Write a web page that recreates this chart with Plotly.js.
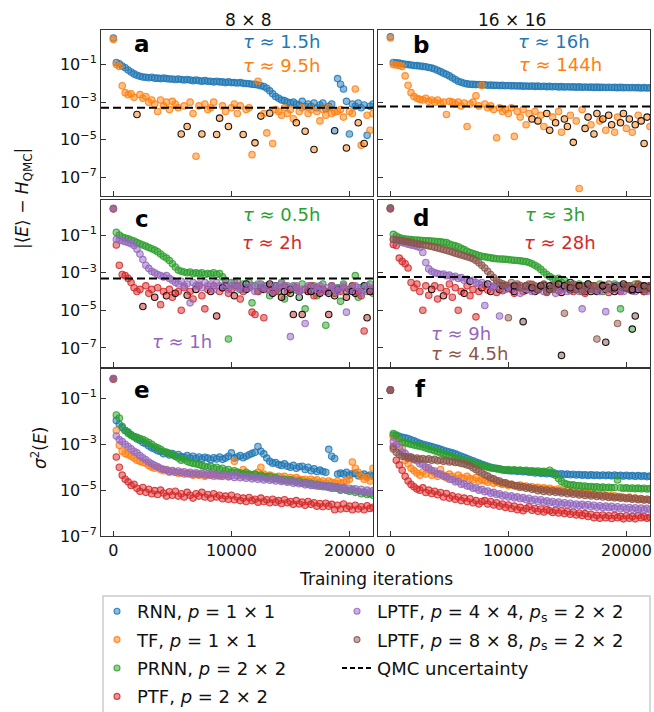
<!DOCTYPE html>
<html><head><meta charset="utf-8">
<script src="https://cdn.plot.ly/plotly-3.0.1.min.js"></script>
<style>html,body{margin:0;padding:0;background:#fff}#chart{width:654px;height:712px}</style>
</head><body><div id="chart"></div>
<script>
// ---------- DATA (signed: negative = E below QMC, drawn with black edge) ----------
const iters = [0,250,500,750,1000,1250,1500,1750,2000,2250,2500,2750,3000,3250,3500,3750,4000,4250,4500,4750,5000,5250,5500,5750,6000,6250,6500,6750,7000,7250,7500,7750,8000,8250,8500,8750,9000,9250,9500,9750,10000,10250,10500,10750,11000,11250,11500,11750,12000,12250,12500,12750,13000,13250,13500,13750,14000,14250,14500,14750,15000,15250,15500,15750,16000,16250,16500,16750,17000,17250,17500,17750,18000,18250,18500,18750,19000,19250,19500,19750,20000,20250,20500,20750,21000,21250,21500,21750,22000];
const xTickVals = [0, 10000, 20000];
const xTickText = ['0', '10000', '20000'];
const yTickVals = [1e-7, 1e-5, 1e-3, 1e-1];
const yTickText = ['10<sup>−7</sup>', '10<sup>−5</sup>', '10<sup>−3</sup>', '10<sup>−1</sup>'];
const qmc8 = 5.0e-4;
const qmc16 = 5.9e-4;
const colTitles = ['8 × 8', '16 × 16'];
const panelLetters = ['a', 'b', 'c', 'd', 'e', 'f'];

// panel a (8x8, |E - H_QMC|)
const a_rnn = [2.6,0.13,0.11,0.085,0.068,0.052,0.04,0.032,0.027,0.024,
 0.022,0.021,0.02,0.021,0.019,0.019,0.018,0.019,0.018,0.017,
 0.017,0.016,0.017,0.016,0.015,0.016,0.015,0.014,0.015,0.014,
 0.013,0.014,0.013,0.013,0.012,0.013,0.012,0.012,0.011,0.012,
 0.011,0.011,0.0105,0.011,0.01,0.0098,0.0095,0.009,0.0088,0.0082,
 0.0075,0.0068,0.0055,0.004,0.0028,0.002,0.0016,0.0013,0.0012,0.001,
 0.0009,0.001,0.0008,0.0007,0.0011,0.0006,0.0008,0.0006,0.0009,0.0005,
 0.0007,0.0009,0.00045,0.0006,0.0008,-3e-5,0.018,0.009,0.005,0.0011,
 2e-5,0.0008,0.0006,0.0009,0.0005,0.0007,1.7e-5,0.0006,0.0008];
const a_tf = [2.2,0.1,0.08,0.0075,0.0032,0.0025,0.0028,0.0018,-0.00022,0.0025,
 0.0016,0.002,0.001,0.0013,0.0008,0.00032,0.0013,0.00063,0.001,0.0004,
 0.0011,0.0008,0.0005,-2e-5,0.00063,-5e-5,0.001,0.00025,1.3e-6,0.00063,
 -2e-5,0.0008,0.0004,0.0005,0.001,-1.9e-5,-0.00014,0.00063,0.00032,-5e-5,
 0.0005,0.0008,0.00025,0.00063,-1.9e-5,0.0004,0.0005,1.6e-6,-6.8e-6,0.013,
 -0.00018,0.00025,2.3e-5,-0.00026,6.3e-6,0.0004,0.00032,0.0002,0.0005,0.00025,
 0.0004,0.00013,-8e-5,0.00032,0.0005,-2.8e-5,0.00025,0.0004,-3e-6,0.00032,
 0.0001,0.0004,0.0002,0.0005,0.00025,0.0003,0.00032,0.0004,0.00016,-3.6e-6,
 0.00032,0.00025,0.005,-8e-5,5e-6,-6.3e-6,0.0002,3.2e-5,0.00025];

// panel b (16x16, |E - H_QMC|)
const b_rnn = [3.0,0.13,0.125,0.12,0.11,0.105,0.1,0.095,0.09,0.088,
 0.085,0.08,0.077,0.07,0.065,0.058,0.05,0.042,0.035,0.03,
 0.025,0.02,0.016,0.013,0.0115,0.0102,0.0094,0.009,0.0088,0.0086,
 0.0087,0.0083,0.0084,0.008,0.0081,0.0078,0.0079,0.0076,0.0078,0.0075,
 0.0077,0.0074,0.0075,0.0072,0.0074,0.0071,0.0073,0.007,0.0072,0.0069,
 0.0071,0.0068,0.007,0.0067,0.0069,0.0066,0.0068,0.0065,0.0067,0.0064,
 0.0066,0.0064,0.0065,0.0063,0.0065,0.0062,0.0064,0.0062,0.0063,0.0061,
 0.0063,0.0061,0.0062,0.006,0.0062,0.006,0.0061,0.0059,0.0061,0.0059,
 0.006,0.0058,0.006,0.0058,0.0059,0.0057,0.0059,0.0057,0.0058];
const b_tf = [2.6,0.1,0.095,0.09,0.08,0.025,0.008,0.0032,0.002,0.0016,
 0.0014,0.0013,0.0016,0.0011,0.0013,0.001,0.0013,0.0009,0.001,0.00022,
 0.0011,0.001,0.0008,0.001,0.00063,0.0009,5e-5,0.0008,0.001,0.0022,
 0.00063,0.0076,0.0008,0.0005,0.00063,0.0004,1.26e-5,0.0005,0.00032,0.0004,
 0.00025,0.0005,1.5e-5,0.00032,0.00016,0.0004,6.3e-5,0.00025,-0.000126,0.00032,
 -0.0001,0.0002,5e-5,-0.00025,-3.2e-5,0.00016,-8e-5,0.00032,2.5e-5,-0.000126,
 -5e-5,0.0002,-7.2e-6,0.0001,2.5e-8,0.0004,-4e-5,-0.00016,6.3e-5,-2e-5,
 -0.00025,0.0001,-0.000126,3.2e-5,-0.0002,-6.3e-5,2.5e-5,0.00016,-8e-5,-0.00025,
 4e-5,-0.000126,2.5e-5,-6.3e-5,0.0002,-0.0001,-6.3e-6,-0.00016,5e-5];

// panel c (8x8, |E - H_QMC|)
const c_prnn = [2.5,0.14,0.1,0.08,0.07,0.063,0.055,0.048,0.04,0.035,
 0.03,0.026,0.022,0.019,0.016,0.013,0.01,0.0075,0.006,0.0045,
 0.003,0.002,0.0014,0.0012,0.0011,0.001,0.0011,0.0009,0.001,0.0009,
 0.001,0.0008,0.0009,0.00085,0.001,0.0008,0.0009,0.0006,0.0004,3e-7,
 0.0003,0.0002,0.00035,0.00013,0.00025,0.00016,0.0003,2.5e-5,0.0002,0.0001,
 0.00025,-0.00013,0.0002,6e-5,0.00016,-0.0002,0.0001,0.0003,4e-5,0.00016,
 -8e-5,0.0002,0.00012,-5e-5,0.00025,1.2e-5,0.00016,-0.0001,0.0002,6e-5,
 -0.00013,0.00025,1.6e-6,0.0001,0.0002,-6e-5,0.00016,3e-5,0.00025,-0.0001,
 0.00013,0.0002,0.0007,5e-5,0.00016,-0.0002,0.0001,0.00025,8e-5];
const c_ptf = [2.5,0.03,0.0025,0.0008,0.0007,0.0005,0.0003,0.00016,0.0001,0.00013,
 -1.6e-5,0.0002,8e-5,0.00013,-5e-5,0.00016,2e-5,0.0001,-6e-5,0.00013,
 5e-5,-8e-5,0.0001,1e-5,0.00016,-6.3e-5,0.0001,4e-5,-0.00013,0.0002,
 6e-5,1.2e-5,0.00013,-0.0001,0.0002,-5e-6,0.0001,0.00016,-0.0002,8e-5,
 0.00013,-6e-5,0.0002,4e-5,0.0001,-0.00013,0.00016,8e-6,6e-6,0.0001,
 -0.00016,4e-6,0.00013,0.0002,-8e-5,0.0001,0.00016,-5e-5,0.0002,0.0001,
 -0.00013,-6e-6,0.00016,0.0001,-6e-6,0.00013,-0.0001,0.0002,6e-5,0.00016,
 -8e-5,0.00013,0.0001,-6e-6,0.0002,8e-5,-0.00013,0.0001,0.00016,-5e-5,
 0.00013,0.0002,-8e-5,0.0001,6e-5,8e-7,-4e-6,0.00013,0.0001];
const c_lptf4 = [2.7,0.06,0.055,0.05,0.045,0.04,0.035,0.028,0.018,0.01,
 0.005,0.0025,0.0017,0.0012,0.001,0.0008,0.0007,0.0006,0.0007,0.0005,
 0.0004,0.0003,0.00025,0.00035,0.0002,0.00025,2.5e-5,0.0003,0.0002,0.00025,
 0.00016,0.0003,0.0002,0.00025,0.00013,0.0003,0.0002,-0.00016,0.00025,0.00013,
 0.0002,0.0003,0.00016,0.0002,0.00013,-0.00025,0.00016,0.0002,0.0001,0.00025,
 0.00016,0.0002,0.00013,-0.00025,0.0001,0.0002,0.00016,0.00025,-0.0001,0.0002,
 4e-7,0.00016,0.0002,0.0001,0.00013,2e-6,0.0002,-0.0001,0.00016,0.00013,
 0.0002,0.0001,0.00016,-8e-5,0.0002,0.00013,0.0001,0.00016,0.0002,8e-6,
 0.00013,-0.0001,0.0002,0.00016,8e-5,0.00013,0.0002,-0.0001,0.00016];

// panel d (16x16, |E - H_QMC|)
const d_prnn = [2.8,0.11,0.09,0.075,0.065,0.062,0.06,0.058,0.055,0.055,
 0.053,0.052,0.05,0.05,0.048,0.047,0.045,0.044,0.042,0.04,
 0.034,0.03,0.027,0.024,0.02,0.017,0.014,0.012,0.0105,0.0092,
 0.0082,0.0075,0.007,0.0066,0.0062,0.0058,0.0055,0.0054,0.0053,0.0052,
 0.005,0.0048,0.0046,0.0045,0.0043,0.0041,0.0039,0.0035,0.003,0.0025,
 0.002,0.0015,0.0011,0.0008,0.00063,0.0005,0.0004,0.0005,0.0003,0.0004,
 0.00025,-0.0003,0.0002,-0.00016,0.00025,0.0002,-0.0001,0.00025,0.00016,-0.0002,
 -0.00013,0.00025,0.0001,0.0002,-0.00016,0.00013,0.00025,-0.0002,1.2e-5,0.0002,
 0.00016,-0.0002,-1e-6,0.00025,0.00013,-0.0002,-0.0001,0.00016,0.0002];
const d_ptf = [2.5,0.032,0.028,0.006,0.004,0.003,0.0018,0.0003,0.00016,0.00025,
 0.0001,1e-5,0.0002,6.3e-5,-0.00013,0.0002,4e-5,0.00016,-6e-5,0.0001,
 0.00025,5e-5,0.00016,1e-5,0.0001,-8e-5,0.0002,6e-5,0.00013,4.5e-6,
 0.0001,-0.00016,0.00022,0.00012,-0.0001,0.00018,0.00009,-0.00013,0.00011,0.0002,
 -0.00015,0.00013,0.00008,-0.00018,0.00021,0.0001,-0.00012,0.00016,0.00024,-0.0001,
 0.00012,0.00017,-0.00022,0.00009,0.00014,-0.00016,0.0002,0.00011,-0.00009,0.00015,
 0.00023,-0.00012,0.0001,0.00018,-0.0002,0.00013,0.00008,-0.00015,0.0002,0.00012,
 -0.0001,0.00017,0.00022,-0.00013,0.00009,0.00015,-0.00019,0.00012,0.0001,-0.00016,
 0.00021,0.00013,-0.00011,0.00017,0.00024,-0.00013,0.0001,0.00015,-0.0002];
const d_lptf4 = [2.5,0.06,0.05,0.045,0.04,0.037,0.033,0.03,0.028,0.025,
 0.022,0.012,0.0035,0.0016,0.0012,0.001,0.0009,0.0008,0.00085,0.0007,
 0.00075,0.0006,0.00065,0.0005,0.00055,0.0004,0.00045,-0.00035,0.0004,0.0003,
 0.00025,0.0003,1.8e-5,-0.00025,0.0002,0.00016,0.00025,5e-6,-0.0002,0.00013,
 0.0002,0.00016,-0.0001,0.0002,8e-5,0.00016,-0.0002,0.00013,0.0001,0.00016,
 -0.00013,0.0002,0.0001,0.00016,-0.00013,0.0002,8e-5,0.00016,0.00013,-0.0002,
 0.0001,0.00016,0.0002,-0.00013,0.0001,1.2e-5,0.00016,0.0002,-0.0001,0.00013,
 0.00016,0.0001,-0.0002,8.5e-6,0.00013,0.00016,-0.0001,0.0002,0.00013,0.0001,
 -0.00016,0.0002,0.00013,0.0001,-0.00013,0.00016,0.0002,0.0001,-0.00016];
const d_lptf8 = [2.8,0.06,0.057,0.054,0.05,0.047,0.044,0.041,0.038,0.035,
 0.033,0.031,0.029,0.027,0.025,0.023,0.021,0.019,0.017,0.0155,
 0.014,0.0125,0.011,0.0098,0.0088,0.0079,0.0071,0.0064,0.0055,0.0045,
 0.0034,0.0025,0.0018,0.0012,0.0008,0.00055,0.0004,0.0003,0.00026,0.00022,
 4e-6,0.0003,-0.0002,0.00025,0.00016,-2.5e-6,0.0002,0.00025,-0.00016,0.0002,
 0.00013,-0.0002,0.00025,0.0001,-0.0002,0.00013,0.0002,-0.00025,-4e-8,7e-6,
 0.0002,-0.00016,0.00025,0.00013,-0.0002,0.0001,0.0002,-0.00025,0.00013,0.0002,
 3e-7,0.00016,-0.0002,-2e-7,0.00025,0.00013,-0.00016,2e-6,0.0002,-0.00025,
 0.00016,0.0002,-0.00013,-5e-6,0.00025,0.00016,-0.0002,0.00013,0.0002];

// panel e (8x8, sigma^2)
const e_rnn = [0.74,1.1e-2,7.5e-3,5.2e-3,4e-3,3.4e-3,2.6e-3,2.2e-3,1.7e-3,1.5e-3,
 1.2e-3,1.05e-3,8.5e-4,7e-4,6.2e-4,5.2e-4,4.8e-4,3.9e-4,4.4e-4,3.4e-4,
 3.9e-4,3.1e-4,3.6e-4,2.9e-4,2.7e-4,3.2e-4,2.5e-4,3e-4,2.4e-4,2.8e-4,
 2.3e-4,2.7e-4,2.5e-4,2.1e-4,2.6e-4,2.3e-4,2.8e-4,2.2e-4,2.5e-4,3e-4,
 4.2e-4,2.5e-4,2.8e-4,3.2e-4,2.6e-4,3e-4,3.5e-4,4e-4,4.5e-4,8e-4,
 5e-4,3.8e-4,2.5e-4,1.8e-4,1.5e-4,1.6e-4,1.3e-4,1.2e-4,1.4e-4,1.1e-4,
 1e-4,1.2e-4,9e-5,1.05e-4,1.1e-4,8e-5,1e-4,7e-5,8.5e-5,6.5e-5,
 7.5e-5,6.5e-5,6e-5,6e-4,3e-4,2.4e-4,5e-5,5.5e-5,5e-5,6e-5,
 4.5e-5,5.2e-5,5.5e-5,4.2e-5,4.6e-5,5e-5,4e-5,4.5e-5,4e-5];
const e_tf = [0.7,0.004,0.0009,0.0005,0.0004,0.00035,0.0003,0.00025,0.0002,0.00018,
 0.00016,0.00015,0.00012,0.0001,9e-5,0.0001,8e-5,7e-5,8e-5,6e-5,
 7e-5,6e-5,5.5e-5,6e-5,5e-5,5.5e-5,5e-5,4.5e-5,5e-5,4.5e-5,
 5e-5,4e-5,4.5e-5,5e-5,4e-5,4.5e-5,4e-5,4.5e-5,5e-5,4e-5,
 6e-5,0.00018,6e-5,5e-5,8e-5,5e-5,4.5e-5,4e-5,5e-5,6e-5,
 0.0001,5e-5,4e-5,4.5e-5,4e-5,3.5e-5,4e-5,3.5e-5,4e-5,3e-5,
 3.5e-5,3e-5,3.5e-5,3e-5,2.8e-5,3e-5,2.5e-5,3e-5,2.5e-5,2.8e-5,
 2.2e-5,2.5e-5,2e-5,2.5e-5,2.2e-5,2e-5,2.5e-5,2e-5,2.2e-5,2.5e-5,
 3e-5,0.00017,9e-5,6e-5,4e-5,3e-5,3.5e-5,2.5e-5,9e-5];
const e_prnn = [0.7,0.019,0.014,0.006,0.004,0.003,0.0025,0.0021,0.002,0.0018,
 0.0016,0.0014,0.0012,0.001,0.0008,0.0007,0.0006,0.0005,0.00045,0.0004,
 0.00035,0.0003,0.00025,0.0002,0.00022,0.00018,0.00016,0.00015,0.00014,0.00013,
 0.00012,0.00011,0.0001,0.00011,9e-5,0.0001,8e-5,9e-5,7e-5,8e-5,
 6e-5,7e-5,6e-5,5.5e-5,5e-5,6e-5,5e-5,4.5e-5,5e-5,4e-5,
 4.5e-5,4e-5,3.5e-5,4e-5,3e-5,3.5e-5,3e-5,2.8e-5,3e-5,2.5e-5,
 2.8e-5,2.5e-5,2.2e-5,2.5e-5,2e-5,2.2e-5,1.8e-5,2e-5,1.6e-5,1.8e-5,
 1.5e-5,1.6e-5,1.4e-5,1.5e-5,1.2e-5,1.4e-5,1.2e-5,1e-5,1.2e-5,1e-5,
 9e-6,1.1e-5,8e-6,9e-6,7e-6,8e-6,6.5e-6,7e-6,6e-6];
const e_ptf = [0.7,2.8e-4,1e-4,4.5e-5,3e-5,2.3e-5,1.6e-5,1.8e-5,1.2e-5,9e-6,
 1.3e-5,8e-6,1.1e-5,7e-6,9.5e-6,6.5e-6,1e-5,7.5e-6,5.5e-6,8.5e-6,
 6e-6,9e-6,5.5e-6,7e-6,5e-6,8e-6,6e-6,4.5e-6,7e-6,5.5e-6,
 8e-6,5e-6,6.5e-6,4.5e-6,7e-6,5e-6,6e-6,4.2e-6,5.5e-6,4e-6,
 6e-6,3.8e-6,5e-6,3.5e-6,4.5e-6,3.2e-6,4.8e-6,3.5e-6,4e-6,3e-6,
 4.5e-6,3.2e-6,3.8e-6,2.8e-6,4e-6,3e-6,3.5e-6,2.6e-6,3.8e-6,2.8e-6,
 3.2e-6,2.4e-6,3.5e-6,2.5e-6,3e-6,2.2e-6,3.2e-6,2.4e-6,2.8e-6,2e-6,
 2.6e-6,1.9e-6,2.7e-6,2e-6,2.4e-6,1.4e-6,2.2e-6,1.5e-6,2.5e-6,1.6e-6,
 2e-6,1.4e-6,2.2e-6,1.5e-6,1.9e-6,1.4e-6,2.1e-6,1.6e-6,1.8e-6];
const e_lptf4 = [0.74,2.3e-3,1.6e-3,1.3e-3,1e-3,8e-4,6.3e-4,5e-4,4.2e-4,3.2e-4,
 2.6e-4,2.1e-4,1.7e-4,1.4e-4,1.2e-4,1.05e-4,9e-5,8.2e-5,7.5e-5,6.5e-5,
 7.2e-5,6e-5,6.8e-5,5.6e-5,6.3e-5,5.2e-5,6e-5,5e-5,5.7e-5,4.8e-5,
 5.5e-5,4.6e-5,5.2e-5,4.5e-5,5e-5,4.3e-5,4.8e-5,4e-5,4.6e-5,3.8e-5,
 4.4e-5,3.6e-5,4.2e-5,3.5e-5,4e-5,3.3e-5,3.8e-5,3.1e-5,3.6e-5,3e-5,
 3.4e-5,2.8e-5,3.2e-5,2.7e-5,3e-5,2.5e-5,2.9e-5,2.4e-5,2.7e-5,2.2e-5,
 2.5e-5,2e-5,2.3e-5,1.9e-5,2.1e-5,1.7e-5,2e-5,1.6e-5,1.8e-5,1.5e-5,
 1.7e-5,1.4e-5,1.6e-5,1.3e-5,1.5e-5,1.2e-5,1.4e-5,1.1e-5,1.3e-5,1e-5,
 1.2e-5,9.5e-6,1.15e-5,9e-6,1.1e-5,8.5e-6,1e-5,8.5e-6,9.5e-6];

// panel f (16x16, sigma^2)
const f_rnn = [0.23,2.5e-3,2.4e-3,2.24e-3,2e-3,1.9e-3,1.78e-3,1.58e-3,1.41e-3,1.26e-3,
 1.1e-3,1e-3,9.3e-4,8.5e-4,7.9e-4,7.2e-4,6.6e-4,6e-4,5.5e-4,5e-4,
 4.6e-4,4.2e-4,3.8e-4,3.4e-4,3e-4,2.7e-4,2.4e-4,2.1e-4,1.9e-4,1.7e-4,
 1.5e-4,1.35e-4,1.2e-4,1.1e-4,1e-4,9.3e-5,8.9e-5,8.5e-5,7.6e-5,7.4e-5,
 7.1e-5,6.9e-5,7e-5,6.6e-5,6.8e-5,6.3e-5,6.5e-5,6e-5,6.2e-5,5.6e-5,
 5.9e-5,5.4e-5,5.6e-5,5.2e-5,5.5e-5,5e-5,5.3e-5,4.9e-5,5.2e-5,4.8e-5,
 5e-5,4.7e-5,4.9e-5,4.6e-5,4.8e-5,4.5e-5,4.7e-5,4.4e-5,4.7e-5,4.4e-5,
 4.6e-5,4.3e-5,4.6e-5,4.3e-5,4.5e-5,4.2e-5,4.5e-5,4.2e-5,4.4e-5,4.1e-5,
 4.4e-5,4.1e-5,4.3e-5,4e-5,4.3e-5,4e-5,4.2e-5,3.9e-5,4.1e-5];
const f_tf = [0.23,2.1e-3,1.8e-3,1.5e-3,6.6e-4,2e-4,1.4e-4,8.9e-5,7.1e-5,5.6e-5,
 4.5e-5,6.3e-5,5e-5,7.9e-5,4.5e-5,5.6e-5,4e-5,7.9e-5,4.5e-5,3.5e-5,
 5e-5,4e-5,3.2e-5,4.5e-5,3.5e-5,3.2e-5,4e-5,3.2e-5,2.8e-5,3.5e-5,
 2.5e-5,2.8e-5,2.5e-5,2.2e-5,2.8e-5,2e-5,2.2e-5,2e-5,1.78e-5,2e-5,
 1.58e-5,1.78e-5,1.58e-5,1.41e-5,1.66e-5,1.41e-5,1.5e-5,1.32e-5,1.41e-5,1.26e-5,
 1.32e-5,1.17e-5,1.26e-5,1.12e-5,1.2e-5,1.07e-5,1e-5,1.12e-5,9.5e-6,8.9e-6,
 1e-5,8.3e-6,8.9e-6,7.9e-6,7.6e-6,8.3e-6,7.1e-6,7.6e-6,6.6e-6,7.1e-6,
 6.3e-6,6e-6,6.6e-6,5.6e-6,6e-6,5.2e-6,5.6e-6,5e-6,5.2e-6,4.8e-6,
 4.5e-6,5e-6,4.2e-6,4.5e-6,4e-6,4.3e-6,3.8e-6,4e-6,3.6e-6];
const f_prnn = [0.23,2.95e-3,2.5e-3,1.8e-3,1.26e-3,1.17e-3,1.07e-3,1e-3,9.3e-4,8.7e-4,
 8.3e-4,7.6e-4,6.9e-4,6.3e-4,5.8e-4,5.2e-4,4.7e-4,4.3e-4,3.9e-4,3.5e-4,
 3.2e-4,2.9e-4,2.6e-4,2.4e-4,2.2e-4,2e-4,1.8e-4,1.66e-4,1.5e-4,1.38e-4,
 1.26e-4,1.17e-4,1.07e-4,1e-4,9.3e-5,8.9e-5,8.5e-5,8.1e-5,7.9e-5,7.6e-5,
 7.9e-5,7.4e-5,7.7e-5,7.2e-5,7.5e-5,7e-5,7.3e-5,6.8e-5,7e-5,6.6e-5,
 6.8e-5,6.4e-5,6.6e-5,6.2e-5,7.4e-5,6e-5,4.5e-5,3.2e-5,2.4e-5,2e-5,
 1.8e-5,1.66e-5,1.7e-5,1.55e-5,1.6e-5,1.48e-5,1.52e-5,1.4e-5,1.45e-5,1.35e-5,
 1.4e-5,1.3e-5,1.36e-5,1.28e-5,1.33e-5,1.26e-5,1.3e-5,2.75e-5,1.28e-5,1.2e-5,
 1.26e-5,1.18e-5,1.24e-5,1.16e-5,1.22e-5,1.14e-5,1.2e-5,1.12e-5,1.18e-5];
const f_ptf = [0.23,7.9e-4,2e-4,1.26e-4,7.4e-5,4e-5,2.5e-5,1.78e-5,1.41e-5,1.12e-5,
 1e-5,1.26e-5,7.9e-6,1e-5,7.1e-6,8.9e-6,6.3e-6,7.9e-6,5e-6,7.1e-6,
 4.5e-6,5.6e-6,4e-6,5e-6,3.5e-6,4.5e-6,3.2e-6,4.2e-6,2.8e-6,3.5e-6,
 2.5e-6,3.2e-6,3.5e-6,2.5e-6,3.2e-6,2.24e-6,2.8e-6,2e-6,2.5e-6,1.78e-6,
 2.24e-6,1.58e-6,2e-6,1.41e-6,1.78e-6,1.26e-6,1.58e-6,1.9e-6,1.32e-6,1.58e-6,
 1.2e-6,1.5e-6,1.12e-6,1.41e-6,1.26e-6,1.07e-6,1.32e-6,1e-6,1.26e-6,9.5e-7,
 1.17e-6,8.9e-7,1.12e-6,8.3e-7,1e-6,7.9e-7,9.5e-7,7.1e-7,8.9e-7,6.3e-7,
 7.9e-7,6e-7,8.3e-7,6.3e-7,7.6e-7,5.8e-7,7.9e-7,6.3e-7,7.2e-7,5.6e-7,
 7.6e-7,6e-7,7.1e-7,5.6e-7,7.9e-7,6.3e-7,7.1e-7,6e-7,6.6e-7];
const f_lptf4 = [0.23,1.3e-3,9.5e-4,7.5e-4,4.5e-4,4e-4,3e-4,2.8e-4,2.1e-4,1.9e-4,
 1.4e-4,1.35e-4,1e-4,9.5e-5,7.2e-5,6.8e-5,5.1e-5,5e-5,4e-5,3.9e-5,
 3e-5,2.9e-5,2.3e-5,2.4e-5,1.8e-5,1.9e-5,1.5e-5,1.5e-5,1.2e-5,1.25e-5,
 1e-5,1.08e-5,8.6e-6,9.2e-6,7.4e-6,8e-6,6.5e-6,7e-6,5.6e-6,6.1e-6,
 5e-6,5.6e-6,4.6e-6,5.1e-6,4.2e-6,4.7e-6,3.8e-6,4.4e-6,3.5e-6,4e-6,
 3.2e-6,3.8e-6,3e-6,3.4e-6,2.8e-6,3.2e-6,2.6e-6,3e-6,2.4e-6,2.8e-6,
 2.3e-6,2.7e-6,2.2e-6,2.5e-6,2.1e-6,2.4e-6,2e-6,2.35e-6,1.9e-6,2.2e-6,
 1.8e-6,2.1e-6,1.75e-6,2e-6,1.7e-6,1.95e-6,1.6e-6,1.9e-6,1.55e-6,1.8e-6,
 1.5e-6,1.75e-6,1.45e-6,1.7e-6,1.4e-6,1.65e-6,1.38e-6,1.6e-6,1.4e-6];
const f_lptf8 = [0.23,6.3e-4,4.5e-4,3.6e-4,3e-4,2.9e-4,2.5e-4,2.7e-4,2.3e-4,2.5e-4,
 2.2e-4,2.4e-4,2.1e-4,2.3e-4,2e-4,2.2e-4,1.9e-4,2.05e-4,1.8e-4,1.95e-4,
 1.7e-4,1.8e-4,1.6e-4,1.65e-4,1.45e-4,1.4e-4,1.25e-4,1.15e-4,9.5e-5,8e-5,
 6.6e-5,5.6e-5,4.7e-5,4.1e-5,3.4e-5,3.1e-5,2.6e-5,2.5e-5,2.1e-5,2.1e-5,
 1.8e-5,1.8e-5,1.55e-5,1.6e-5,1.35e-5,1.45e-5,1.2e-5,1.3e-5,1.08e-5,1.15e-5,
 9.5e-6,1.05e-5,8.8e-6,1e-5,8.4e-6,9.3e-6,8e-6,8.8e-6,7.5e-6,8.3e-6,
 7e-6,7.8e-6,6.6e-6,7.3e-6,6.2e-6,7e-6,5.9e-6,6.6e-6,5.6e-6,6.3e-6,
 5.3e-6,6e-6,5e-6,5.6e-6,4.8e-6,5.3e-6,4.6e-6,5e-6,4.4e-6,4.8e-6,
 4.2e-6,4.6e-6,4e-6,4.4e-6,3.8e-6,4.2e-6,3.7e-6,4e-6,3.6e-6];

const seriesNames = {
  rnn: 'RNN, <i>p</i> = 1 × 1',
  tf: 'TF, <i>p</i> = 1 × 1',
  prnn: 'PRNN, <i>p</i> = 2 × 2',
  ptf: 'PTF, <i>p</i> = 2 × 2',
  lptf4: 'LPTF, <i>p</i> = 4 × 4, <i>p</i><sub>s</sub> = 2 × 2',
  lptf8: 'LPTF, <i>p</i> = 8 × 8, <i>p</i><sub>s</sub> = 2 × 2'
};
const qmcName = 'QMC uncertainty';

// ---------- STYLE ----------
const COLORS = {rnn:'#1f77b4', tf:'#ff7f0e', prnn:'#2ca02c', ptf:'#d62728', lptf4:'#9467bd', lptf8:'#8c564b'};
function rgba(hex, a) {
  const n = parseInt(hex.slice(1), 16);
  return 'rgba(' + (n >> 16 & 255) + ',' + (n >> 8 & 255) + ',' + (n & 255) + ',' + a + ')';
}
const FONT = 'DejaVu Sans, sans-serif';
const TXT = '#111';

function pts(key, vals, xa, ya) {
  const c = COLORS[key];
  return {
    type: 'scatter', mode: 'markers', x: iters, y: vals.map(Math.abs),
    xaxis: xa, yaxis: ya, showlegend: false, legendgroup: key, hoverinfo: 'skip',
    marker: {size: 6.5, color: rgba(c, 0.5),
      line: {width: 1.1, color: vals.map(v => v < 0 ? 'rgba(0,0,0,0.9)' : rgba(c, 0.85))}}
  };
}

const traces = [
  pts('rnn', a_rnn, 'x', 'y'), pts('tf', a_tf, 'x', 'y'),
  pts('rnn', b_rnn, 'x2', 'y2'), pts('tf', b_tf, 'x2', 'y2'),
  pts('prnn', c_prnn, 'x3', 'y3'), pts('ptf', c_ptf, 'x3', 'y3'), pts('lptf4', c_lptf4, 'x3', 'y3'),
  pts('prnn', d_prnn, 'x4', 'y4'), pts('ptf', d_ptf, 'x4', 'y4'), pts('lptf4', d_lptf4, 'x4', 'y4'), pts('lptf8', d_lptf8, 'x4', 'y4'),
  pts('rnn', e_rnn, 'x5', 'y5'), pts('tf', e_tf, 'x5', 'y5'), pts('prnn', e_prnn, 'x5', 'y5'), pts('ptf', e_ptf, 'x5', 'y5'), pts('lptf4', e_lptf4, 'x5', 'y5'),
  pts('rnn', f_rnn, 'x6', 'y6'), pts('tf', f_tf, 'x6', 'y6'), pts('prnn', f_prnn, 'x6', 'y6'), pts('ptf', f_ptf, 'x6', 'y6'), pts('lptf4', f_lptf4, 'x6', 'y6'), pts('lptf8', f_lptf8, 'x6', 'y6')
];

// legend entries: two columns built as two vertical legends
const legendCols = [['rnn', 'tf', 'prnn', 'ptf'], ['lptf4', 'lptf8', 'qmc']];
legendCols.forEach((col, ci) => {
  col.forEach((k, i) => {
    const lg = ci === 0 ? 'legend' : 'legend2';
    if (k === 'qmc') {
      traces.push({type: 'scatter', mode: 'lines', x: [null], y: [null], name: qmcName, legend: lg, legendrank: i + 1,
        legendgroup: 'qmc', line: {color: '#000', width: 2, dash: '5px,3px'}, hoverinfo: 'skip'});
    } else {
      const c = COLORS[k];
      traces.push({type: 'scatter', mode: 'markers', x: [null], y: [null], name: seriesNames[k], legend: lg, legendrank: i + 1,
        legendgroup: k, marker: {size: 6, color: rgba(c, 0.5), line: {width: 1.1, color: rgba(c, 0.85)}}, hoverinfo: 'skip'});
    }
  });
});

// ---------- LAYOUT ----------
const W = 654, H = 712;
const px = v => v / W, py = v => 1 - v / H;
const colDom = [[px(101), px(373)], [px(378), px(650)]];
const rowDom = [[py(196), py(29.5)], [py(366.7), py(200)], [py(536), py(369.3)]];
const XRANGE = [-1050, 22000];
const YRANGE_E = [-8.0, 0.87];
const YRANGE_S = [-7.0, 0.27];

const legendBase = {orientation: 'v', yanchor: 'top', xanchor: 'left', itemwidth: 30,
  traceorder: 'grouped', tracegroupgap: 2,
  font: {family: FONT, size: 18, color: TXT}, bgcolor: 'rgba(0,0,0,0)', borderwidth: 0};

const layout = {
  width: W, height: H, margin: {l: 0, r: 0, t: 0, b: 0, autoexpand: false},
  paper_bgcolor: '#fff', plot_bgcolor: '#fff',
  font: {family: FONT, color: TXT, size: 16},
  showlegend: true,
  legend: Object.assign({}, legendBase, {x: px(97), y: py(593)}),
  legend2: Object.assign({}, legendBase, {x: px(337), y: py(593)}),
  annotations: [], shapes: []
};

function note(x, y, text, font, extra) {
  layout.annotations.push(Object.assign({xref: 'paper', yref: 'paper', x: px(x), y: py(y),
    xanchor: 'center', yanchor: 'middle', text: text, showarrow: false, font: font}, extra || {}));
}

for (let i = 0; i < 6; i++) {
  const r = Math.floor(i / 2), c = i % 2;
  const sfx = i === 0 ? '' : String(i + 1);
  const bottom = r === 2;
  layout['xaxis' + sfx] = {
    domain: colDom[c], anchor: 'y' + sfx, range: XRANGE,
    tickvals: xTickVals, ticktext: xTickText, showticklabels: bottom,
    ticks: 'inside', ticklen: 5, tickwidth: 1, tickcolor: '#333',
    tickfont: {family: FONT, size: 16, color: TXT},
    showline: true, mirror: true, linecolor: '#333', linewidth: 1,
    showgrid: false, zeroline: false, fixedrange: true
  };
  layout['yaxis' + sfx] = {
    domain: rowDom[r], anchor: 'x' + sfx, type: 'log', range: r === 2 ? YRANGE_S : YRANGE_E,
    tickvals: yTickVals, ticktext: yTickText, showticklabels: c === 0,
    ticks: 'inside', ticklen: 5, tickwidth: 1, tickcolor: '#333',
    tickfont: {family: FONT, size: 16, color: TXT},
    showline: true, mirror: true, linecolor: '#333', linewidth: 1,
    showgrid: false, zeroline: false, fixedrange: true
  };
  const letterPos = [[142, 44], [421, 45], [142, 219], [421, 218], [142, 390], [420, 389]][i];
  note(letterPos[0], letterPos[1], '<b>' + panelLetters[i] + '</b>', {family: FONT, size: 23, color: '#000'});
  if (r < 2) {
    const q = c === 0 ? qmc8 : qmc16;
    layout.shapes.push({type: 'line', xref: 'x' + sfx + ' domain', yref: 'y' + sfx, x0: 0, x1: 1, y0: q, y1: q,
      line: {color: '#000', width: 2, dash: '8px,4px'}});
  }
}

note(248, 20, colTitles[0], {size: 17});
note(512, 20, colTitles[1], {size: 17});

const tau = (txt, key, x, y) => note(x, y, '<i>τ</i> ≈ ' + txt, {size: 18, color: COLORS[key]});
tau('1.5h', 'rnn', 281, 42); tau('9.5h', 'tf', 281, 65);
tau('16h', 'rnn', 554, 42); tau('144h', 'tf', 560, 64);
tau('0.5h', 'prnn', 281, 215); tau('2h', 'ptf', 272, 243); tau('1h', 'lptf4', 182, 341);
tau('3h', 'prnn', 555, 214); tau('28h', 'ptf', 560, 243); tau('9h', 'lptf4', 461, 333); tau('4.5h', 'lptf8', 470, 353);

note(23, 199, '|⟨<i>E</i>⟩ − <i>H</i><sub>QMC</sub>|', {size: 17}, {textangle: -90});
note(39, 448, '<i>σ</i><sup>2</sup>(<i>E</i>)', {size: 17}, {textangle: -90});
note(376, 579, 'Training iterations', {size: 17});

layout.shapes.push({type: 'rect', xref: 'paper', yref: 'paper', x0: px(103), x1: px(650), y0: py(730), y1: py(596),
  line: {color: '#cccccc', width: 1.5}, fillcolor: 'rgba(0,0,0,0)', layer: 'below'});

Plotly.newPlot('chart', traces, layout, {displayModeBar: false, staticPlot: true});
</script>
</body></html>
